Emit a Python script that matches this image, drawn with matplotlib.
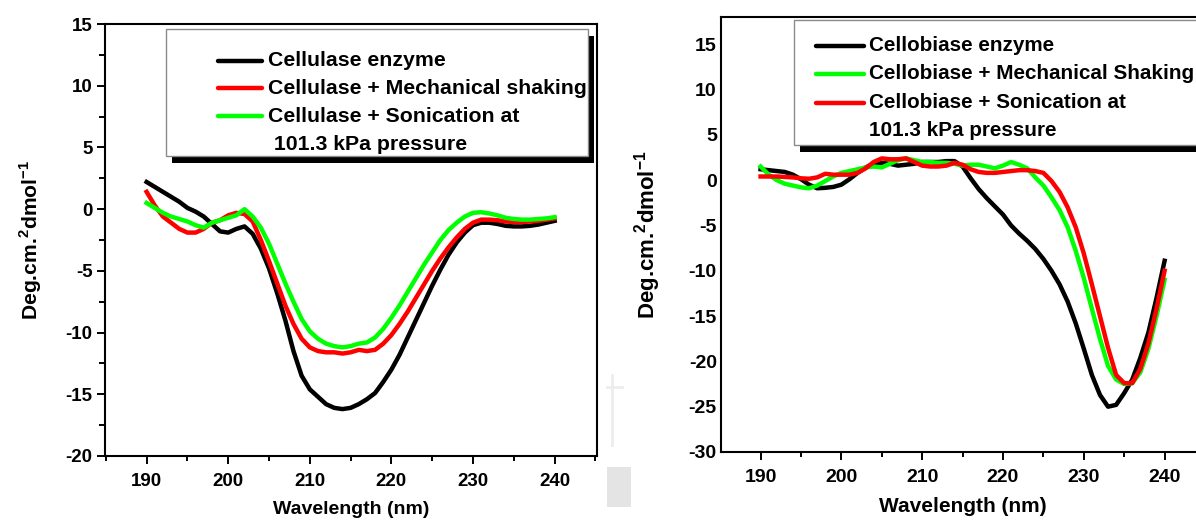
#!/usr/bin/env python3
"""Far-UV CD spectra of cellulase and cellobiase, two panels side by side."""
import matplotlib

matplotlib.use("Agg")
import matplotlib.pyplot as plt
from matplotlib.lines import Line2D
from matplotlib.patches import Rectangle
from matplotlib.ticker import MultipleLocator

plt.rcParams["font.family"] = ["Liberation Sans", "DejaVu Sans"]
plt.rcParams["font.weight"] = "bold"
plt.rcParams["axes.unicode_minus"] = False
plt.rcParams["mathtext.fontset"] = "custom"
plt.rcParams["mathtext.rm"] = "Liberation Sans:bold"
plt.rcParams["mathtext.bf"] = "Liberation Sans:bold"

wavelength = list(range(190, 241))

# left panel: cellulase
cellulase = [2.2, 1.8, 1.4, 1.0, 0.6, 0.1, -0.2, -0.6, -1.2, -1.8,
             -1.9, -1.6, -1.4, -2.0, -3.2, -4.8, -6.8, -9.0, -11.5, -13.5,
             -14.6, -15.2, -15.8, -16.1, -16.2, -16.1, -15.8, -15.4, -14.9, -14.0,
             -13.0, -11.8, -10.4, -9.0, -7.6, -6.2, -4.9, -3.7, -2.7, -1.9,
             -1.3, -1.1, -1.1, -1.2, -1.35, -1.4, -1.4, -1.35, -1.25, -1.1,
             -0.95]
cellulase_shaking = [1.4, 0.3, -0.6, -1.1, -1.6, -1.9, -1.9, -1.6, -1.1, -0.9,
                     -0.5, -0.3, -0.4, -1.0, -2.5, -4.2, -6.0, -7.8, -9.3, -10.5,
                     -11.2, -11.5, -11.6, -11.6, -11.7, -11.6, -11.4, -11.5, -11.4, -10.9,
                     -10.2, -9.3, -8.3, -7.2, -6.1, -5.0, -4.0, -3.1, -2.3, -1.6,
                     -1.1, -0.85, -0.85, -0.9, -1.0, -1.05, -1.05, -1.0, -0.95, -0.85,
                     -0.75]
cellulase_sonic = [0.5, 0.1, -0.3, -0.6, -0.8, -1.0, -1.3, -1.5, -1.1, -0.9,
                   -0.7, -0.5, 0.0, -0.6, -1.5, -2.8, -4.4, -6.0, -7.5, -8.9,
                   -9.9, -10.5, -10.9, -11.1, -11.2, -11.1, -10.9, -10.8, -10.4, -9.7,
                   -8.8, -7.8, -6.7, -5.6, -4.5, -3.5, -2.5, -1.7, -1.1, -0.6,
                   -0.3, -0.25, -0.35, -0.5, -0.7, -0.8, -0.85, -0.85, -0.8, -0.75,
                   -0.65]

# right panel: cellobiase
cellobiase = [1.2, 1.1, 1.0, 0.9, 0.6, 0.1, -0.5, -0.9, -0.85, -0.75,
              -0.5, 0.1, 0.8, 1.4, 1.8, 1.9, 1.8, 1.6, 1.7, 1.8,
              2.0, 2.0, 2.0, 2.1, 2.1, 1.5, 0.2, -1.0, -2.0, -2.9,
              -3.8, -5.0, -5.9, -6.7, -7.6, -8.7, -10.0, -11.5, -13.4, -15.8,
              -18.6, -21.5, -23.7, -25.0, -24.8, -23.5, -22.0, -19.6, -16.8, -13.0,
              -8.9]
cellobiase_shaking = [1.5, 0.6, 0.0, -0.4, -0.6, -0.8, -0.9, -0.6, -0.1, 0.4,
                      0.8, 1.0, 1.2, 1.4, 1.5, 1.4, 1.8, 2.2, 2.4, 2.2,
                      2.0, 2.0, 1.9, 1.9, 1.8, 1.6, 1.7, 1.7, 1.5, 1.3,
                      1.6, 2.0, 1.7, 1.3, 0.3, -0.6, -1.9, -3.3, -5.2, -7.8,
                      -10.8, -14.2, -17.5, -20.5, -22.0, -22.5, -22.4, -21.2, -18.6, -15.0,
                      -11.0]
cellobiase_sonic = [0.4, 0.4, 0.4, 0.35, 0.3, 0.2, 0.15, 0.3, 0.7, 0.6,
                    0.6, 0.6, 0.8, 1.3, 2.0, 2.4, 2.3, 2.3, 2.4, 2.0,
                    1.6, 1.5, 1.5, 1.6, 1.9, 1.7, 1.2, 0.9, 0.8, 0.8,
                    0.9, 1.0, 1.1, 1.1, 1.0, 0.8, -0.1, -1.3, -3.0, -5.2,
                    -8.1, -11.5, -15.0, -18.5, -21.5, -22.4, -22.4, -20.8, -18.0, -14.2,
                    -10.0]

left_labels = ["Cellulase enzyme", "Cellulase + Mechanical shaking",
               "Cellulase + Sonication at", " 101.3 kPa pressure"]
right_labels = ["Cellobiase enzyme", "Cellobiase + Mechanical Shaking",
                "Cellobiase + Sonication at", "101.3 kPa pressure"]

BLACK, RED, GREEN = "#000000", "#ff0000", "#00ff00"
YLABEL = r"Deg.cm.$^{\mathbf{2}}$dmol$^{\mathbf{-1}}$"

W, H = 1196, 525


def px_axes(fig, x0, x1, ytop, ybot):
    return fig.add_axes([x0 / W, (H - ybot) / H, (x1 - x0) / W, (ybot - ytop) / H])


def draw_legend(ax, box, handle_x, text_x, rows, colors, labels, fs):
    # positions given in figure pixels, converted to axes fraction
    pos = ax.get_position()
    ax_x0, ax_w = pos.x0 * W, pos.width * W
    ax_yb, ax_h = H - pos.y0 * H, pos.height * H

    def fx(px):
        return (px - ax_x0) / ax_w

    def fy(py):
        return (ax_yb - py) / ax_h

    bx0, bx1, by0, by1 = box
    shadow = Rectangle((fx(bx0 + 6), fy(by1 + 7)), fx(bx1 + 6) - fx(bx0 + 6),
                       fy(by0 + 7) - fy(by1 + 7), transform=ax.transAxes,
                       facecolor="black", edgecolor="none", clip_on=False, zorder=5)
    frame = Rectangle((fx(bx0), fy(by1)), fx(bx1) - fx(bx0), fy(by0) - fy(by1),
                      transform=ax.transAxes, facecolor="white", edgecolor="#8a8a8a",
                      lw=1.0, clip_on=False, zorder=6)
    ax.add_patch(shadow)
    ax.add_patch(frame)
    for i, label in enumerate(labels):
        y = fy(rows[i])
        if i < len(colors):
            ax.add_line(Line2D([fx(handle_x[0]), fx(handle_x[1])], [y, y],
                               transform=ax.transAxes, color=colors[i], lw=3.2,
                               solid_capstyle="round", clip_on=False, zorder=7))
        ax.text(fx(text_x), y, label, transform=ax.transAxes, fontsize=fs,
                fontweight="bold", va="center", ha="left", zorder=7, clip_on=False)


def style_axes(ax, xlim, ylim, yticks, ytick_len, yminor, fs_tick, fs_xlab, fs_ylab):
    ax.set_xlim(*xlim)
    ax.set_ylim(*ylim)
    ax.set_xticks(range(190, 241, 10))
    ax.xaxis.set_minor_locator(MultipleLocator(5))
    ax.set_yticks(yticks)
    if yminor:
        ax.yaxis.set_minor_locator(MultipleLocator(2.5))
    ax.tick_params(axis="x", which="major", direction="out", length=6, width=1.4,
                   labelsize=fs_tick, pad=6)
    ax.tick_params(axis="x", which="minor", direction="out", length=3.5, width=1.4)
    ax.tick_params(axis="y", which="major", direction="out", length=ytick_len,
                   width=1.4, labelsize=fs_tick, pad=3)
    ax.tick_params(axis="y", which="minor", direction="out", length=4, width=1.4)
    for sp in ax.spines.values():
        sp.set_linewidth(1.5)
    for lab in ax.get_xticklabels() + ax.get_yticklabels():
        lab.set_fontweight("bold")
    ax.set_xlabel("Wavelength (nm)", fontsize=fs_xlab, fontweight="bold", labelpad=8)
    ax.set_ylabel(YLABEL, fontsize=fs_ylab, fontweight="bold")


fig = plt.figure(figsize=(W / 100, H / 100), dpi=100)

# left panel
ax1 = px_axes(fig, 105, 597, 24, 456)
ax1.plot(wavelength, cellulase, color=BLACK, lw=3.2)
ax1.plot(wavelength, cellulase_shaking, color=RED, lw=3.2)
ax1.plot(wavelength, cellulase_sonic, color=GREEN, lw=3.2)
style_axes(ax1, (184.9, 245.2), (-20, 15), range(-20, 16, 5), 6, True,
           13.5, 14, 15.2)
ax1.yaxis.set_label_coords(-0.125, 0.5)
draw_legend(ax1, (166, 588, 29, 156), (218, 262), 268, (61, 88, 116, 144),
            [BLACK, RED, GREEN], left_labels, 15.3)

# right panel (runs off the right edge in the original)
ax2 = px_axes(fig, 721, 1205, 17, 452)
ax2.plot(wavelength, cellobiase, color=BLACK, lw=3.2)
ax2.plot(wavelength, cellobiase_shaking, color=GREEN, lw=3.2)
ax2.plot(wavelength, cellobiase_sonic, color=RED, lw=3.2)
style_axes(ax2, (185.1, 245.0), (-30, 18.0), range(-30, 16, 5), 0, False,
           14, 15, 16)
ax2.yaxis.set_label_coords(-0.12, 0.5)
draw_legend(ax2, (794, 1260, 20, 145), (816, 864), 869, (46, 74, 103, 131),
            [BLACK, GREEN, RED], right_labels, 14.9)

# faint scan leftovers between the panels
fig.add_artist(Rectangle((607 / W, (H - 507) / H), 24 / W, 40 / H,
                         transform=fig.transFigure, facecolor="#e4e4e4",
                         edgecolor="none"))
fig.add_artist(Line2D([612 / W, 612 / W], [(H - 375) / H, (H - 445) / H],
                      transform=fig.transFigure, color="#ececec", lw=2))
fig.add_artist(Line2D([607 / W, 622 / W], [(H - 387) / H, (H - 387) / H],
                      transform=fig.transFigure, color="#ececec", lw=2))

fig.savefig("out.png", dpi=100)
plt.close(fig)
